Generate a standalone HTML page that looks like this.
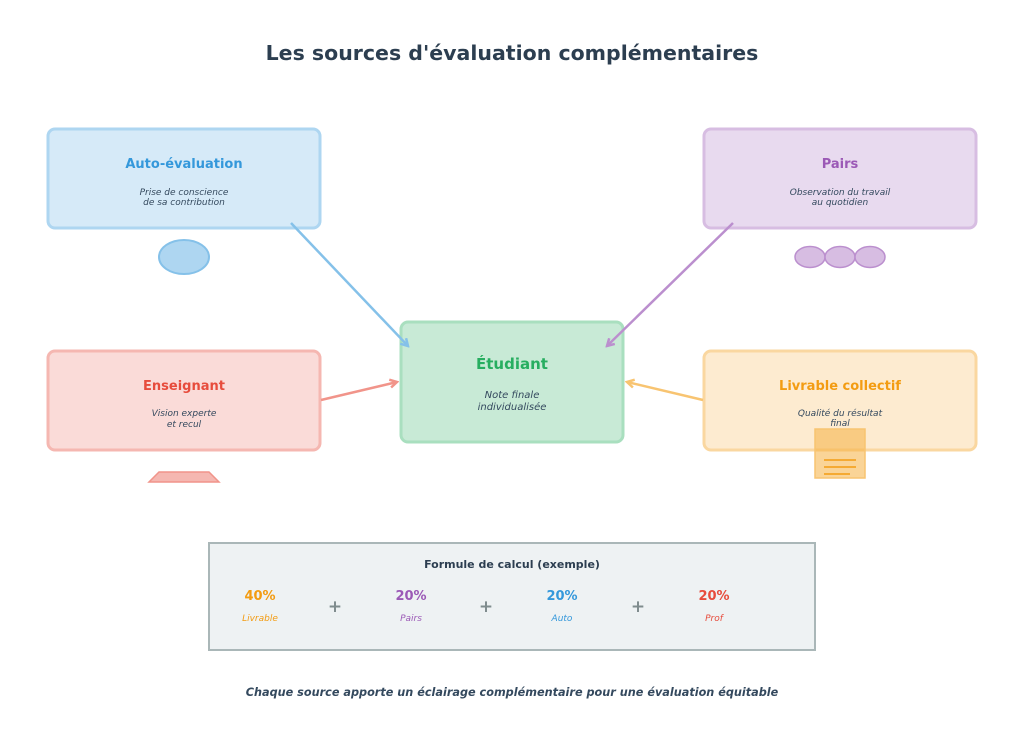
<!DOCTYPE html>
<html><head><meta charset="utf-8"><style>
html,body{margin:0;padding:0;background:#fff}
svg{display:block}
text{font-family:"DejaVu Sans","Liberation Sans",sans-serif}
</style></head><body>
<svg width="1024" height="729" viewBox="0 0 1024 729" xmlns="http://www.w3.org/2000/svg">
<defs>
<marker id="ab" markerWidth="10" markerHeight="10" refX="8" refY="5" orient="auto" markerUnits="userSpaceOnUse"><path d="M1,1 L8,5 L1,9" fill="none" stroke="#85c1e9" stroke-width="2.5"/></marker>
<marker id="ap" markerWidth="10" markerHeight="10" refX="8" refY="5" orient="auto" markerUnits="userSpaceOnUse"><path d="M1,1 L8,5 L1,9" fill="none" stroke="#bb8fce" stroke-width="2.5"/></marker>
<marker id="ar" markerWidth="10" markerHeight="10" refX="8" refY="5" orient="auto" markerUnits="userSpaceOnUse"><path d="M1,1 L8,5 L1,9" fill="none" stroke="#f1948a" stroke-width="2.5"/></marker>
<marker id="ao" markerWidth="10" markerHeight="10" refX="8" refY="5" orient="auto" markerUnits="userSpaceOnUse"><path d="M1,1 L8,5 L1,9" fill="none" stroke="#f8c471" stroke-width="2.5"/></marker>
</defs>
<text x="512" y="60" text-anchor="middle" font-size="20.5" font-weight="bold" fill="#2c3e50">Les sources d'évaluation complémentaires</text>

<rect x="48" y="129" width="272" height="99" rx="7" fill="#d6eaf8" stroke="#aed6f1" stroke-width="3"/>
<text x="184" y="168" text-anchor="middle" font-size="13" font-weight="bold" fill="#3498db">Auto-évaluation</text>
<text x="184" y="195" text-anchor="middle" font-size="9" font-style="italic" fill="#34495e">Prise de conscience</text>
<text x="184" y="205" text-anchor="middle" font-size="9" font-style="italic" fill="#34495e">de sa contribution</text>
<ellipse cx="184" cy="257" rx="25" ry="17" fill="#aed6f1" stroke="#85c1e9" stroke-width="2"/>

<rect x="704" y="129" width="272" height="99" rx="7" fill="#e8daef" stroke="#d7bde2" stroke-width="3"/>
<text x="840" y="168" text-anchor="middle" font-size="13" font-weight="bold" fill="#9b59b6">Pairs</text>
<text x="840" y="195" text-anchor="middle" font-size="9" font-style="italic" fill="#34495e">Observation du travail</text>
<text x="840" y="205" text-anchor="middle" font-size="9" font-style="italic" fill="#34495e">au quotidien</text>
<ellipse cx="810" cy="257" rx="15" ry="10.5" fill="#d7bde2" stroke="#bb8fce" stroke-width="1.5"/>
<ellipse cx="840" cy="257" rx="15" ry="10.5" fill="#d7bde2" stroke="#bb8fce" stroke-width="1.5"/>
<ellipse cx="870" cy="257" rx="15" ry="10.5" fill="#d7bde2" stroke="#bb8fce" stroke-width="1.5"/>

<rect x="48" y="351" width="272" height="99" rx="7" fill="#fadbd8" stroke="#f5b7b1" stroke-width="3"/>
<text x="184" y="390" text-anchor="middle" font-size="13" font-weight="bold" fill="#e74c3c">Enseignant</text>
<text x="184" y="416" text-anchor="middle" font-size="9" font-style="italic" fill="#34495e">Vision experte</text>
<text x="184" y="427" text-anchor="middle" font-size="9" font-style="italic" fill="#34495e">et recul</text>
<polygon points="149,482 219,482 209,472 159,472" fill="#f5b7b1" stroke="#f1948a" stroke-width="1.5"/>

<rect x="704" y="351" width="272" height="99" rx="7" fill="#fdebd0" stroke="#fad7a0" stroke-width="3"/>
<text x="840" y="390" text-anchor="middle" font-size="13" font-weight="bold" fill="#f39c12">Livrable collectif</text>
<text x="840" y="416" text-anchor="middle" font-size="9" font-style="italic" fill="#34495e">Qualité du résultat</text>
<text x="840" y="426" text-anchor="middle" font-size="9" font-style="italic" fill="#34495e">final</text>
<rect x="815" y="429" width="50" height="49" fill="#f5b041" fill-opacity="0.55" stroke="#f8c471" stroke-width="1.5"/>
<line x1="824" y1="460" x2="856" y2="460" stroke="#f39c12" stroke-width="1.5"/>
<line x1="824" y1="467" x2="856" y2="467" stroke="#f39c12" stroke-width="1.5"/>
<line x1="824" y1="474" x2="850" y2="474" stroke="#f39c12" stroke-width="1.5"/>

<rect x="401" y="322" width="222" height="120" rx="7" fill="#c8ead6" stroke="#a9dfbf" stroke-width="3"/>
<text x="512" y="369" text-anchor="middle" font-size="15" font-weight="bold" fill="#27ae60">Étudiant</text>
<text x="512" y="398" text-anchor="middle" font-size="10" font-style="italic" fill="#34495e">Note finale</text>
<text x="512" y="410" text-anchor="middle" font-size="10" font-style="italic" fill="#34495e">individualisée</text>

<line x1="291" y1="223" x2="408" y2="346" stroke="#85c1e9" stroke-width="2.5" marker-end="url(#ab)"/>
<line x1="733" y1="223" x2="607" y2="346" stroke="#bb8fce" stroke-width="2.5" marker-end="url(#ap)"/>
<line x1="321" y1="400" x2="397" y2="382" stroke="#f1948a" stroke-width="2.5" marker-end="url(#ar)"/>
<line x1="703" y1="400" x2="627" y2="382" stroke="#f8c471" stroke-width="2.5" marker-end="url(#ao)"/>

<rect x="209" y="543" width="606" height="107" fill="#eef2f3" stroke="#aab7b8" stroke-width="2"/>
<text x="512" y="568" text-anchor="middle" font-size="11" font-weight="bold" fill="#2c3e50">Formule de calcul (exemple)</text>
<text x="260" y="600" text-anchor="middle" font-size="13" font-weight="bold" fill="#f39c12">40%</text>
<text x="260" y="621" text-anchor="middle" font-size="9" font-style="italic" fill="#f39c12">Livrable</text>
<text x="335" y="612" text-anchor="middle" font-size="17" font-weight="bold" fill="#7f8c8d">+</text>
<text x="411" y="600" text-anchor="middle" font-size="13" font-weight="bold" fill="#9b59b6">20%</text>
<text x="411" y="621" text-anchor="middle" font-size="9" font-style="italic" fill="#9b59b6">Pairs</text>
<text x="486" y="612" text-anchor="middle" font-size="17" font-weight="bold" fill="#7f8c8d">+</text>
<text x="562" y="600" text-anchor="middle" font-size="13" font-weight="bold" fill="#3498db">20%</text>
<text x="562" y="621" text-anchor="middle" font-size="9" font-style="italic" fill="#3498db">Auto</text>
<text x="638" y="612" text-anchor="middle" font-size="17" font-weight="bold" fill="#7f8c8d">+</text>
<text x="714" y="600" text-anchor="middle" font-size="13" font-weight="bold" fill="#e74c3c">20%</text>
<text x="714" y="621" text-anchor="middle" font-size="9" font-style="italic" fill="#e74c3c">Prof</text>

<text x="512" y="696" text-anchor="middle" font-size="11.25" font-weight="bold" font-style="italic" fill="#34495e">Chaque source apporte un éclairage complémentaire pour une évaluation équitable</text>
</svg>
</body></html>
